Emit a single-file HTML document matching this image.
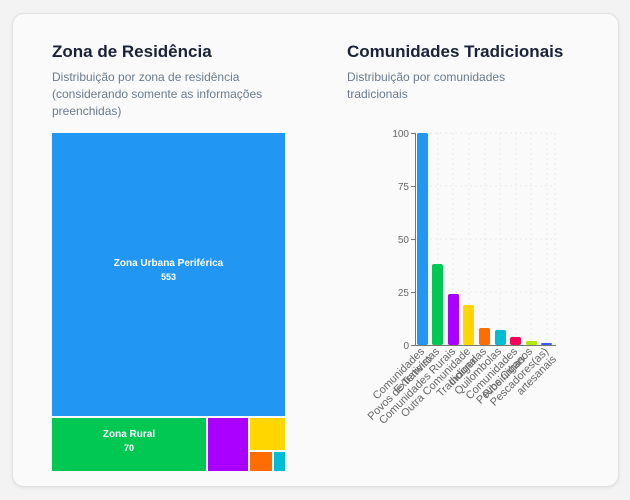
<!DOCTYPE html>
<html><head><meta charset="utf-8"><style>
html,body{margin:0;padding:0;background:#f3f3f3;width:630px;height:500px;overflow:hidden;font-family:"Liberation Sans",sans-serif}
.card{position:absolute;left:12px;top:13px;width:605px;height:472px;background:#fafafa;border:1px solid #e2e2e2;border-radius:12px;box-shadow:0 1px 3px rgba(0,0,0,0.08)}
.t{position:absolute;font-size:17px;font-weight:bold;color:#1a2238}
.s{position:absolute;font-size:12px;line-height:17px;color:#6b7a8c}
.r{position:absolute;color:#fff;font-weight:bold;font-size:10px;text-align:center;box-sizing:border-box}
</style></head><body>
<div class="card"></div>
<div class="t" style="left:52px;top:42px">Zona de Residência</div>
<div class="s" style="left:52px;top:69px;width:240px">Distribuição por zona de residência (considerando somente as informações preenchidas)</div>
<div class="t" style="left:347px;top:42px">Comunidades Tradicionais</div>
<div class="s" style="left:347px;top:69px;width:200px">Distribuição por comunidades tradicionais</div>

<div class="r" style="left:52px;top:133px;width:233px;height:283px;background:#2196f3;padding-top:125px">Zona Urbana Periférica<br><span style="font-size:9px;line-height:16px">553</span></div>
<div class="r" style="left:52px;top:418px;width:154px;height:53px;background:#00c853;padding-top:11px">Zona Rural<br><span style="font-size:9px;line-height:16px">70</span></div>
<div class="r" style="left:208px;top:418px;width:40px;height:53px;background:#aa00ff"></div>
<div class="r" style="left:250px;top:418px;width:35px;height:32px;background:#ffd600"></div>
<div class="r" style="left:250px;top:452px;width:22px;height:19px;background:#ff6d00"></div>
<div class="r" style="left:274px;top:452px;width:11px;height:19px;background:#00bcd4"></div>

<svg style="position:absolute;left:0;top:0" width="630" height="500" font-family="Liberation Sans, sans-serif">
<g stroke="#ebebeb" stroke-dasharray="2,3" stroke-width="1">
<line x1="415" y1="133" x2="555" y2="133"/><line x1="415" y1="186" x2="555" y2="186"/><line x1="415" y1="239" x2="555" y2="239"/><line x1="415" y1="292" x2="555" y2="292"/>
<line x1="438" y1="133" x2="438" y2="345"/><line x1="453" y1="133" x2="453" y2="345"/><line x1="469" y1="133" x2="469" y2="345"/><line x1="485" y1="133" x2="485" y2="345"/><line x1="500" y1="133" x2="500" y2="345"/><line x1="516" y1="133" x2="516" y2="345"/><line x1="531" y1="133" x2="531" y2="345"/><line x1="547" y1="133" x2="547" y2="345"/><line x1="555" y1="133" x2="555" y2="345"/>
</g>
<g stroke="#777" stroke-width="1">
<line x1="415.5" y1="133" x2="415.5" y2="345"/><line x1="415" y1="345.5" x2="556" y2="345.5"/>
<line x1="411" y1="133.5" x2="415" y2="133.5"/><line x1="411" y1="186.5" x2="415" y2="186.5"/><line x1="411" y1="239.5" x2="415" y2="239.5"/><line x1="411" y1="292.5" x2="415" y2="292.5"/><line x1="411" y1="345.5" x2="415" y2="345.5"/>
</g>
<g font-size="10" fill="#666" text-anchor="end">
<text x="409" y="137">100</text><text x="409" y="190">75</text><text x="409" y="243">50</text><text x="409" y="296">25</text><text x="409" y="349">0</text>
</g>
<g>
<rect x="417" y="133" width="11" height="212" rx="2" fill="#2196f3"/>
<rect x="432" y="264" width="11" height="81" rx="2" fill="#00c853"/>
<rect x="448" y="294" width="11" height="51" rx="2" fill="#aa00ff"/>
<rect x="463" y="305" width="11" height="40" rx="2" fill="#ffd600"/>
<rect x="479" y="328" width="11" height="17" rx="2" fill="#ff6d00"/>
<rect x="495" y="330" width="11" height="15" rx="2" fill="#00bcd4"/>
<rect x="510" y="337" width="11" height="8" rx="2" fill="#f50057"/>
<rect x="526" y="341" width="11" height="4" rx="1.5" fill="#aeea00"/>
<rect x="541" y="343" width="11" height="2" rx="1" fill="#3d5afe"/>
</g>
<g font-size="11" fill="#666" text-anchor="end">
<text transform="translate(425,352) rotate(-45)">Comunidades<tspan x="0" dy="11">Povos de Terreiro</tspan></text>
<text transform="translate(440,352) rotate(-45)">Extrativistas</text>
<text transform="translate(456,352) rotate(-45)">Comunidades Rurais</text>
<text transform="translate(471,352) rotate(-45)">Outra Comunidade<tspan x="0" dy="11">Tradicional</tspan></text>
<text transform="translate(487,352) rotate(-45)">Indígenas</text>
<text transform="translate(502,352) rotate(-45)">Quilombolas</text>
<text transform="translate(518,352) rotate(-45)">Comunidades<tspan x="0" dy="11">Ribeirinhas</tspan></text>
<text transform="translate(533,352) rotate(-45)">Povos Ciganos</text>
<text transform="translate(549,352) rotate(-45)">Pescadores(as)<tspan x="0" dy="11">artesanais</tspan></text>
</g>
</svg>
</body></html>
